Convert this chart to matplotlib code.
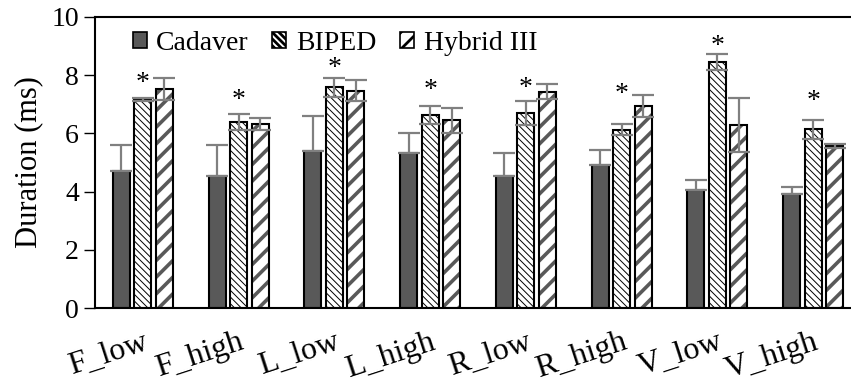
import numpy as np
import matplotlib
matplotlib.use("Agg")
from matplotlib import pyplot as plt
from matplotlib.patches import Patch

plt.rcParams["font.family"] = ["Liberation Serif", "DejaVu Serif"]

conditions = ["F_low", "F_high", "L_low", "L_high", "R_low", "R_high", "V_low", "V_high"]
cadaver = [4.71, 4.55, 5.38, 5.33, 4.55, 4.92, 4.05, 3.91]
cadaver_err = [0.90, 1.05, 1.23, 0.68, 0.77, 0.52, 0.35, 0.26]
biped = [7.17, 6.40, 7.58, 6.64, 6.71, 6.12, 8.46, 6.14]
biped_err = [0.04, 0.27, 0.33, 0.30, 0.41, 0.19, 0.27, 0.33]
hybrid = [7.54, 6.33, 7.47, 6.45, 7.43, 6.94, 6.28, 5.57]
hybrid_err = [0.38, 0.20, 0.37, 0.42, 0.26, 0.38, 0.93, 0.08]
# height of the significance marker above each BIPED bar
star_y = [7.93, 7.32, 8.42, 7.66, 7.73, 7.52, 9.20, 7.29]

x = np.arange(len(conditions))
w = 0.178
step = 0.225

fig = plt.figure(figsize=(8.51, 3.83), dpi=100)
ax = fig.add_axes([95 / 851, 75 / 383, 766 / 851, 291 / 383])

err_kw = dict(ecolor="#808080", elinewidth=1.6, capsize=8, capthick=1.6)


def set_hatch_lw(patches, lw):
    for p in patches:
        if hasattr(p, "set_hatch_linewidth"):
            p.set_hatch_linewidth(lw)


ax.bar(x - step, cadaver, w, color="#595959", edgecolor="black", linewidth=1.5,
       zorder=2)
ax.errorbar(x - step, cadaver, yerr=[np.zeros(len(x)), cadaver_err], fmt="none",
            zorder=3, **err_kw)

plt.rcParams["hatch.linewidth"] = 0.7
bp = ax.bar(x, biped, w, color="white", edgecolor="black", linewidth=1.5,
            hatch="\\\\\\\\\\", zorder=2)
set_hatch_lw(bp, 0.7)
ax.errorbar(x, biped, yerr=biped_err, fmt="none", zorder=3, **err_kw)

# hybrid: gray stripes underneath, black outline on top
plt.rcParams["hatch.linewidth"] = 2.6
hp = ax.bar(x + step, hybrid, w, color="white", edgecolor="#595959", linewidth=0,
            hatch="//", zorder=2)
set_hatch_lw(hp, 2.6)
ax.bar(x + step, hybrid, w, color="none", edgecolor="black", linewidth=1.5,
       zorder=2.5)
ax.errorbar(x + step, hybrid, yerr=hybrid_err, fmt="none", zorder=3, **err_kw)

for xi, yi in zip(x, star_y):
    ax.text(xi, yi - 0.2, "*", ha="center", va="center", fontsize=20)

ax.set_xlim(-0.5, len(x) - 0.5)
ax.set_ylim(0, 10)
ax.set_yticks(range(0, 11, 2))
ax.set_ylabel("Duration (ms)", fontsize=22, labelpad=6)
ax.tick_params(axis="y", labelsize=20, length=8, width=1, direction="out")
ax.set_xticks(x)
ax.set_xticklabels(conditions, rotation=18, ha="right", rotation_mode="anchor",
                   fontsize=23)
ax.tick_params(axis="x", length=0, pad=14)
for s in ["left", "bottom", "top"]:
    ax.spines[s].set_linewidth(1.5)
ax.spines["right"].set_visible(False)

plt.rcParams["hatch.linewidth"] = 0.7
h_cad = Patch(facecolor="#595959", edgecolor="black", linewidth=1.2)
h_bip = Patch(facecolor="white", edgecolor="black", linewidth=1.2, hatch="\\\\\\\\\\")
set_hatch_lw([h_bip], 0.7)
plt.rcParams["hatch.linewidth"] = 2.0
h_hyb = Patch(facecolor="white", edgecolor="black", linewidth=1.2, hatch="//")
set_hatch_lw([h_hyb], 2.0)
ax.legend([h_cad, h_bip, h_hyb], ["Cadaver", "BIPED", "Hybrid III"],
          loc="upper left", bbox_to_anchor=(0.031, 1.0), ncol=3, frameon=False,
          fontsize=20, handlelength=0.5, handleheight=0.5, handletextpad=0.35,
          columnspacing=0.85, borderaxespad=0.1)

fig.savefig("out.png", dpi=100)
